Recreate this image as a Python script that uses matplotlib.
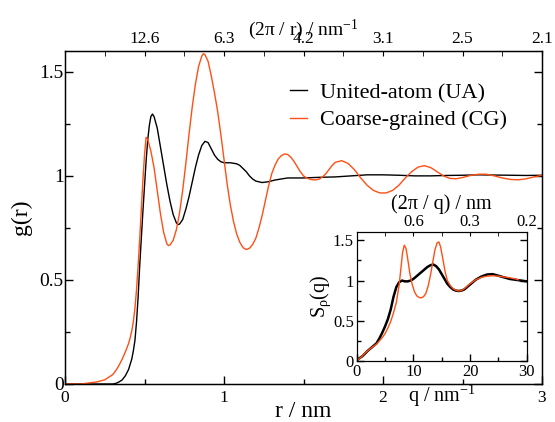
import matplotlib
matplotlib.use("Agg")
import matplotlib.pyplot as plt
from matplotlib.ticker import MultipleLocator

plt.rcParams['font.family'] = ['Liberation Serif', 'DejaVu Serif']
plt.rcParams['mathtext.fontset'] = 'custom'
plt.rcParams['mathtext.rm'] = 'Liberation Serif'
plt.rcParams['mathtext.it'] = 'Liberation Serif:italic'

ORANGE = '#ff4f14'

# g(r), united-atom
r_ua = [0.0, 0.1, 0.2, 0.3, 0.32, 0.34, 0.36, 0.38, 0.40, 0.42, 0.43, 0.44, 0.45, 0.46,
        0.47, 0.48, 0.49, 0.50, 0.51, 0.52, 0.53, 0.54, 0.55, 0.56, 0.58, 0.60, 0.62,
        0.64, 0.66, 0.68, 0.70, 0.71, 0.72, 0.74, 0.76, 0.78, 0.80, 0.82, 0.84, 0.86,
        0.88, 0.90, 0.92, 0.94, 0.96, 0.98, 1.00, 1.04, 1.08, 1.10, 1.12, 1.14, 1.16,
        1.18, 1.20, 1.24, 1.28, 1.32, 1.40, 1.50, 1.60, 1.70, 1.80, 1.90, 2.00, 2.10,
        2.20, 2.30, 2.40, 2.50, 2.60, 2.70, 2.80, 2.90, 3.00]
g_ua = [0.0, 0.0, 0.0, 0.0, 0.003, 0.01, 0.02, 0.04, 0.07, 0.12, 0.16, 0.21, 0.30, 0.42,
        0.57, 0.70, 0.83, 0.95, 1.07, 1.17, 1.24, 1.285, 1.297, 1.285, 1.23, 1.14, 1.05,
        0.96, 0.88, 0.815, 0.775, 0.766, 0.768, 0.79, 0.84, 0.90, 0.97, 1.04, 1.10, 1.145,
        1.166, 1.16, 1.13, 1.10, 1.08, 1.068, 1.063, 1.063, 1.058, 1.05, 1.035, 1.02, 1.0,
        0.985, 0.975, 0.968, 0.972, 0.98, 0.99, 0.99, 0.993, 0.995, 1.0, 1.005, 1.005, 1.003,
        1.0, 1.0, 1.002, 1.003, 1.005, 1.004, 1.003, 1.002, 1.003]

# g(r), coarse-grained
r_cg = [0.0, 0.1, 0.2, 0.25, 0.30, 0.32, 0.34, 0.36, 0.38, 0.40, 0.41, 0.42, 0.43, 0.44,
        0.45, 0.46, 0.47, 0.48, 0.49, 0.50, 0.51, 0.52, 0.54, 0.56, 0.58, 0.60, 0.62,
        0.64, 0.65, 0.66, 0.68, 0.70, 0.72, 0.74, 0.76, 0.78, 0.80, 0.82, 0.84, 0.86,
        0.87, 0.88, 0.90, 0.92, 0.94, 0.96, 0.98, 1.00, 1.02, 1.04, 1.06, 1.08, 1.10,
        1.12, 1.14, 1.16, 1.18, 1.20, 1.22, 1.24, 1.26, 1.28, 1.30, 1.32, 1.34, 1.36,
        1.38, 1.40, 1.42, 1.44, 1.46, 1.48, 1.50, 1.52, 1.54, 1.56, 1.58, 1.60, 1.62,
        1.64, 1.66, 1.68, 1.70, 1.74, 1.78, 1.82, 1.86, 1.90, 1.94, 1.98, 2.02, 2.06,
        2.10, 2.14, 2.18, 2.22, 2.26, 2.30, 2.34, 2.38, 2.42, 2.46, 2.50, 2.55, 2.60,
        2.65, 2.70, 2.75, 2.80, 2.85, 2.90, 2.95, 3.00]
g_cg = [0.0, 0.0, 0.01, 0.02, 0.045, 0.065, 0.09, 0.12, 0.155, 0.195, 0.222, 0.255, 0.30,
        0.365, 0.455, 0.57, 0.70, 0.84, 0.98, 1.10, 1.185, 1.175, 1.12, 1.04, 0.93, 0.82,
        0.73, 0.675, 0.665, 0.668, 0.69, 0.74, 0.82, 0.93, 1.06, 1.20, 1.33, 1.44, 1.525,
        1.575, 1.587, 1.583, 1.55, 1.48, 1.40, 1.31, 1.20, 1.08, 0.96, 0.86, 0.78, 0.72,
        0.68, 0.655, 0.646, 0.652, 0.67, 0.70, 0.75, 0.81, 0.88, 0.95, 1.01, 1.05, 1.08,
        1.097, 1.105, 1.103, 1.09, 1.07, 1.045, 1.02, 1.0, 0.99, 0.984, 0.981, 0.981, 0.985,
        0.995, 1.01, 1.03, 1.05, 1.065, 1.073, 1.06, 1.03, 0.99, 0.955, 0.93, 0.918, 0.918,
        0.93, 0.955, 0.99, 1.02, 1.042, 1.049, 1.04, 1.02, 1.0, 0.988, 0.986, 0.992, 1.002,
        1.008, 1.008, 1.0, 0.99, 0.983, 0.981, 0.986, 0.995, 1.003]

# S(q) inset
q_ua = [0, 1, 2, 3, 3.5, 4, 4.5, 5, 5.5, 6, 6.5, 7, 7.5, 8, 8.5, 9, 9.5, 10, 10.5, 11,
        11.5, 12, 12.5, 13, 13.5, 14, 14.5, 15, 15.5, 16, 16.5, 17, 17.5, 18, 18.5, 19,
        20, 21, 22, 23, 24, 25, 26, 27, 28, 29, 30]
s_ua = [0.01, 0.06, 0.13, 0.19, 0.22, 0.28, 0.35, 0.43, 0.52, 0.64, 0.80, 0.92, 0.98, 1.0,
        0.99, 0.99, 1.0, 1.02, 1.05, 1.08, 1.11, 1.14, 1.17, 1.19, 1.20, 1.18, 1.14, 1.08,
        1.02, 0.96, 0.92, 0.89, 0.875, 0.87, 0.875, 0.89, 0.95, 1.01, 1.05, 1.075, 1.08,
        1.06, 1.04, 1.02, 1.01, 1.0, 0.99]

q_cg = [0, 0.5, 1, 1.5, 2, 2.5, 3, 3.5, 4, 4.5, 5, 5.5, 6, 6.5, 7, 7.5, 7.8, 8.1, 8.4,
        8.7, 9.0, 9.4, 9.8, 10.2, 10.6, 11.0, 11.4, 11.8, 12.2, 12.6, 13.0, 13.4, 13.8,
        14.2, 14.5, 14.8, 15.2, 15.6, 16.0, 16.5, 17.0, 17.5, 18.0, 18.5, 19.0, 20.0, 21.0,
        22.0, 23.0, 24.0, 25.0, 26.0, 27.0, 28.0, 28.5]
s_cg = [0.01, 0.03, 0.065, 0.10, 0.13, 0.16, 0.185, 0.21, 0.25, 0.29, 0.34, 0.41, 0.49,
        0.60, 0.73, 0.95, 1.15, 1.35, 1.44, 1.40, 1.27, 1.08, 0.95, 0.86, 0.81, 0.79, 0.785,
        0.80, 0.84, 0.93, 1.06, 1.22, 1.38, 1.47, 1.48, 1.42, 1.27, 1.11, 1.00, 0.94, 0.90,
        0.88, 0.87, 0.875, 0.90, 0.96, 1.01, 1.04, 1.055, 1.06, 1.055, 1.045, 1.035, 1.02,
        1.01]

# tick labels
x_ticks = [0, 1, 2, 3]
x_labels = ['0', '1', '2', '3']
y_ticks = [0, 0.5, 1, 1.5]
y_labels = ['0', '0.5', '1', '1.5']
top_ticks = [0.5, 1.0, 1.5, 2.0, 2.5, 3.0]
top_labels = ['12.6', '6.3', '4.2', '3.1', '2.5', '2.1']
in_x_ticks = [0, 10, 20, 30]
in_x_labels = ['0', '10', '20', '30']
in_top_ticks = [10, 20, 30]
in_top_labels = ['0.6', '0.3', '0.2']

fig = plt.figure(figsize=(5.55, 4.22), dpi=100)
ax = fig.add_axes([65 / 555, 1 - 384 / 422, 477 / 555, 333 / 422])

ax.plot(r_ua, g_ua, color='black', lw=1.0, label='United-atom (UA)')
ax.plot(r_cg, g_cg, color=ORANGE, lw=1.0, label='Coarse-grained (CG)')
ax.set_xlim(0, 3)
ax.set_ylim(0, 1.6)
ax.set_xticks(x_ticks)
ax.set_xticklabels(x_labels)
ax.set_yticks(y_ticks)
ax.set_yticklabels(y_labels)
ax.xaxis.set_minor_locator(MultipleLocator(0.5))
ax.yaxis.set_minor_locator(MultipleLocator(0.25))
ax.tick_params(which='both', direction='in', right=True, top=False, width=1)
ax.tick_params(which='major', length=6)
ax.tick_params(which='minor', length=3.5)
ax.tick_params(axis='x', labelsize=12.5, pad=4)
ax.tick_params(axis='y', labelsize=14, pad=1)
ax.set_xlabel('r / nm', fontsize=17, labelpad=-3)
ax.set_ylabel('g(r)', fontsize=17, labelpad=5)
for s in ax.spines.values():
    s.set_linewidth(1.0)

ax.legend(loc='upper left', bbox_to_anchor=(0.472, 0.905), frameon=False, fontsize=16,
          handlelength=0.75, handletextpad=0.6, labelspacing=0.3,
          borderpad=0, borderaxespad=0)

axt = ax.twiny()
axt.set_xlim(0, 3)
axt.set_xticks(top_ticks)
axt.set_xticklabels(top_labels)
axt.xaxis.set_minor_locator(MultipleLocator(0.25))
axt.tick_params(which='both', direction='in', length=3.5, labelsize=12.5, pad=3)
axt.set_xlabel('(2π / r) / nm$^{-1}$', fontsize=14, labelpad=-3)

# inset
axi = fig.add_axes([356.7 / 555, 1 - 361 / 422, 170 / 555, 128.7 / 422])
axi.plot(q_ua, s_ua, color='black', lw=1.8)
axi.plot(q_cg, s_cg, color=ORANGE, lw=1.0)
axi.set_xlim(0, 30)
axi.set_ylim(0, 1.6)
axi.set_xticks(in_x_ticks)
axi.set_xticklabels(in_x_labels)
axi.set_yticks(y_ticks)
axi.set_yticklabels(y_labels)
axi.xaxis.set_minor_locator(MultipleLocator(5))
axi.yaxis.set_minor_locator(MultipleLocator(0.25))
axi.tick_params(which='both', direction='in', right=True, top=False, width=1,
                labelsize=12, pad=2)
axi.tick_params(which='major', length=5)
axi.tick_params(which='minor', length=3)
axi.set_xlabel('q / nm$^{-1}$', fontsize=14.5, labelpad=2)
axi.set_ylabel(r'S$_{\mathrm{ρ}}$(q)', fontsize=14.5, labelpad=0)

axit = axi.twiny()
axit.set_xlim(0, 30)
axit.set_xticks(in_top_ticks)
axit.set_xticklabels(in_top_labels)
axit.xaxis.set_minor_locator(MultipleLocator(5))
axit.tick_params(which='both', direction='in', length=3, labelsize=12, pad=2)
axit.set_xlabel('(2π / q) / nm', fontsize=14.5, labelpad=3)

fig.savefig('out.png', dpi=100)
